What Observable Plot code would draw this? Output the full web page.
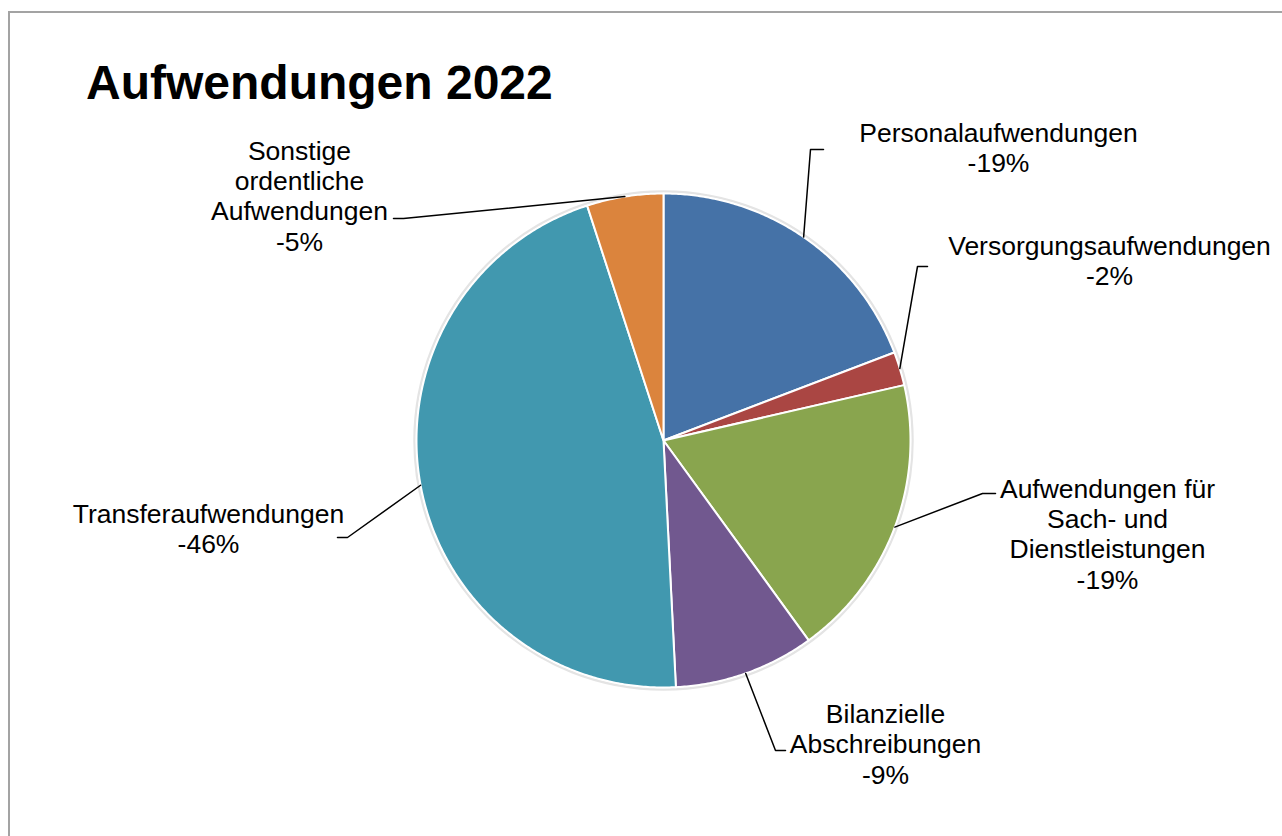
<!DOCTYPE html>
<html>
<head>
<meta charset="utf-8">
<script src="https://cdn.jsdelivr.net/npm/d3@7"></script>
<script src="https://cdn.jsdelivr.net/npm/@observablehq/plot@0.6"></script>
<style>
  html, body { margin: 0; padding: 0; background: #fff; overflow: hidden; }
  #wrap { position: relative; width: 1282px; height: 836px; }
  #frame { position: absolute; left: 8px; top: 11px; right: -10px; bottom: -10px;
           border-left: 2px solid #a3a3a3; border-top: 2px solid #a3a3a3; }
  #title { position: absolute; left: 86px; top: 59px; font: bold 48px "Liberation Sans", Arial, sans-serif;
           line-height: 48px; color: #000; white-space: nowrap; }
  #chart { position: absolute; left: 0; top: 0; }
</style>
</head>
<body>
<div id="wrap">
  <div id="frame"></div>
  <div id="chart"></div>
  <div id="title">Aufwendungen 2022</div>
</div>
<script>
// ---- data ----
const categories = [
  "Personalaufwendungen",
  "Versorgungsaufwendungen",
  "Aufwendungen für Sach- und Dienstleistungen",
  "Bilanzielle Abschreibungen",
  "Transferaufwendungen",
  "Sonstige ordentliche Aufwendungen"
];
const labelLines = [
  ["Personalaufwendungen"],
  ["Versorgungsaufwendungen"],
  ["Aufwendungen für", "Sach- und", "Dienstleistungen"],
  ["Bilanzielle", "Abschreibungen"],
  ["Transferaufwendungen"],
  ["Sonstige", "ordentliche", "Aufwendungen"]
];
const shares = [19.2, 2.2, 18.6, 9.2, 45.8, 5.0]; // percent of total expenses
const colors = ["#4572A7", "#AA4643", "#89A54E", "#71588F", "#4198AF", "#DB843D"];

// ---- layout (pixels) ----
const W = 1282, H = 836, cx = 663, cy = 440, R = 247;
// label layout: leader elbow, leader end, text centre (offsets from pie centre, px)
const layout = [
  {elbow: [147, -291], end: [160, -291], text: [335, -293]},
  {elbow: [254, -174], end: [264, -174], text: [446, -180]},
  {elbow: [319, 53],   end: [332, 53],   text: [444, 93]},
  {elbow: [112, 310],  end: [122, 310],  text: [222, 303]},
  {elbow: [-316, 97],  end: [-326, 97],  text: [-455, 88]},
  {elbow: [-260, -222],end: [-270, -222],text: [-364, -245]}
];

const total = d3.sum(shares);
const slices = [];
const leaders = [];
const labels = [];
let acc = 0;
categories.forEach((name, i) => {
  const a0 = acc / total * 2 * Math.PI;
  acc += shares[i];
  const a1 = acc / total * 2 * Math.PI;
  const n = Math.max(2, Math.ceil((a1 - a0) / (Math.PI / 360)));
  slices.push({name, u: 0, v: 0, color: colors[i]});
  for (let k = 0; k <= n; k++) {
    const a = a0 + (a1 - a0) * k / n;
    slices.push({name, u: Math.sin(a), v: -Math.cos(a), color: colors[i]});
  }
  slices.push({name, u: 0, v: 0, color: colors[i]});
  const am = (a0 + a1) / 2;
  const L = layout[i];
  leaders.push({name, u: Math.sin(am), v: -Math.cos(am)});
  leaders.push({name, u: L.elbow[0] / R, v: L.elbow[1] / R});
  leaders.push({name, u: L.end[0] / R, v: L.end[1] / R});
  labels.push({
    name,
    u: L.text[0] / R, v: L.text[1] / R,
    text: labelLines[i].join("\n") + "\n-" + Math.round(shares[i] / total * 100) + "%"
  });
});

const chart = Plot.plot({
  width: W, height: H,
  margin: 0,
  x: {domain: [-cx / R, (W - cx) / R], range: [0, W], axis: null},
  y: {domain: [-cy / R, (H - cy) / R], range: [0, H], axis: null},
  color: {type: "identity"},
  style: {fontFamily: "'Liberation Sans', Arial, sans-serif", background: "transparent", overflow: "visible"},
  marks: [
    Plot.dot([{u: 0, v: 0}], {x: "u", y: "v", r: R + 2, fill: "none", stroke: "#e4e4e4", strokeWidth: 2.5}),
    Plot.line(slices, {x: "u", y: "v", z: "name", fill: "color", stroke: "#ffffff", strokeWidth: 2, strokeLinejoin: "round", curve: "linear"}),
    Plot.line(leaders, {x: "u", y: "v", z: "name", stroke: "#000", strokeWidth: 1.5, curve: "linear"}),
    Plot.text(labels, {x: "u", y: "v", text: "text", fontSize: 26.5, lineHeight: 1.15, textAnchor: "middle", fill: "#000"})
  ]
});
document.getElementById("chart").appendChild(chart);
</script>
</body>
</html>
